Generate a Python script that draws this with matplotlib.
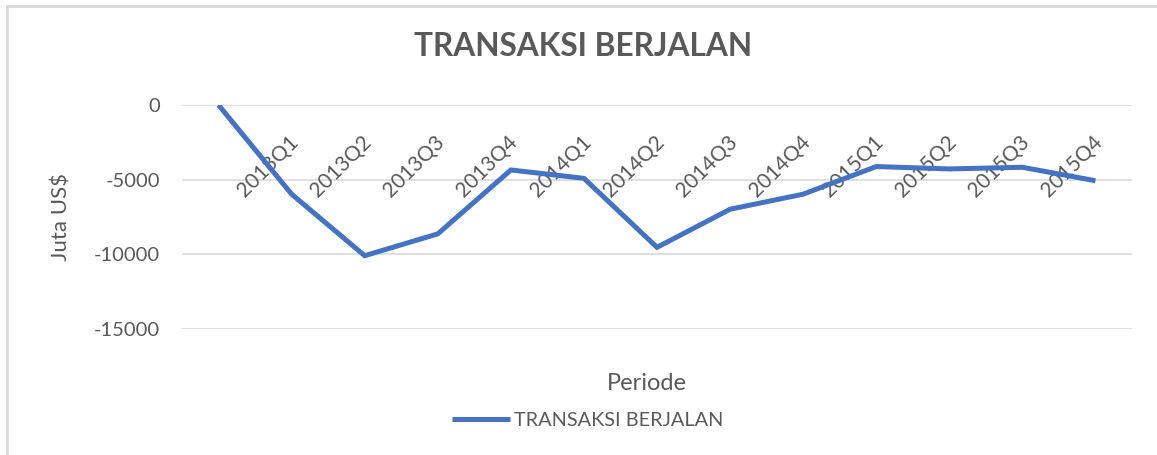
import matplotlib
matplotlib.use('Agg')
import matplotlib.pyplot as plt
from matplotlib.lines import Line2D
from matplotlib import transforms

plt.rcParams['font.family'] = ['Lato', 'DejaVu Sans']

# Data
periode = ['', '2013Q1', '2013Q2', '2013Q3', '2013Q4', '2014Q1', '2014Q2',
           '2014Q3', '2014Q4', '2015Q1', '2015Q2', '2015Q3', '2015Q4']
transaksi = [0, -5970, -10090, -8630, -4350, -4910, -9530,
             -6980, -5970, -4120, -4280, -4170, -5070]
y_ticks = [0, -5000, -10000, -15000]

text_col = '#595959'
grid_col = '#d9d9d9'
line_col = '#4472C4'

fig = plt.figure(figsize=(11.57, 4.55), dpi=100)
ax = fig.add_axes([0.1573, 0.2769, 0.8211, 0.4923])

x = list(range(len(periode)))
ax.plot(x, transaksi, color=line_col, linewidth=3.6, solid_joinstyle='miter',
        solid_capstyle='butt', label='TRANSAKSI BERJALAN', zorder=3)

ax.set_xlim(-0.5, len(periode) - 0.5)
ax.set_ylim(-15000, 0)
ax.set_yticks(y_ticks)
ax.set_yticklabels([str(v) for v in y_ticks])
ax.grid(axis='y', color=grid_col, linewidth=1.2)
ax.set_axisbelow(True)
for s in ax.spines.values():
    s.set_visible(False)
ax.tick_params(axis='y', length=0, pad=16, labelsize=14.5, labelcolor=text_col)
ax.set_xticks([])

# category labels sit just below the zero line, rotated
off = transforms.offset_copy(ax.transData, fig=fig, x=11, y=-27, units='dots')
for i, lab in enumerate(periode):
    ax.text(i, 0, lab, rotation=45, ha='right', va='top', transform=off,
            fontsize=15, color=text_col, rotation_mode='default', zorder=2)

ax.set_ylabel('Juta US$', fontsize=16, color=text_col, labelpad=16)
fig.text(0.559, 1 - 383 / 455, 'Periode', ha='center', va='center',
         fontsize=17, color=text_col)
fig.suptitle('TRANSAKSI BERJALAN', x=0.504, y=1 - 47 / 455, va='center',
             fontsize=22.8, fontweight='bold', color=text_col)

leg = fig.legend(loc='center', bbox_to_anchor=(0.508, 1 - 420 / 455), frameon=False,
                 fontsize=14.3, handlelength=2.9, handletextpad=0.2,
                 labelcolor=text_col)

# chart area frame (top and left edges visible)
fig.add_artist(Line2D([7 / 1157, 1], [1 - 6 / 455, 1 - 6 / 455],
                      transform=fig.transFigure, color=grid_col, linewidth=2))
fig.add_artist(Line2D([7 / 1157, 7 / 1157], [0, 1 - 6 / 455],
                      transform=fig.transFigure, color=grid_col, linewidth=2))

fig.savefig('out.png', dpi=100)
